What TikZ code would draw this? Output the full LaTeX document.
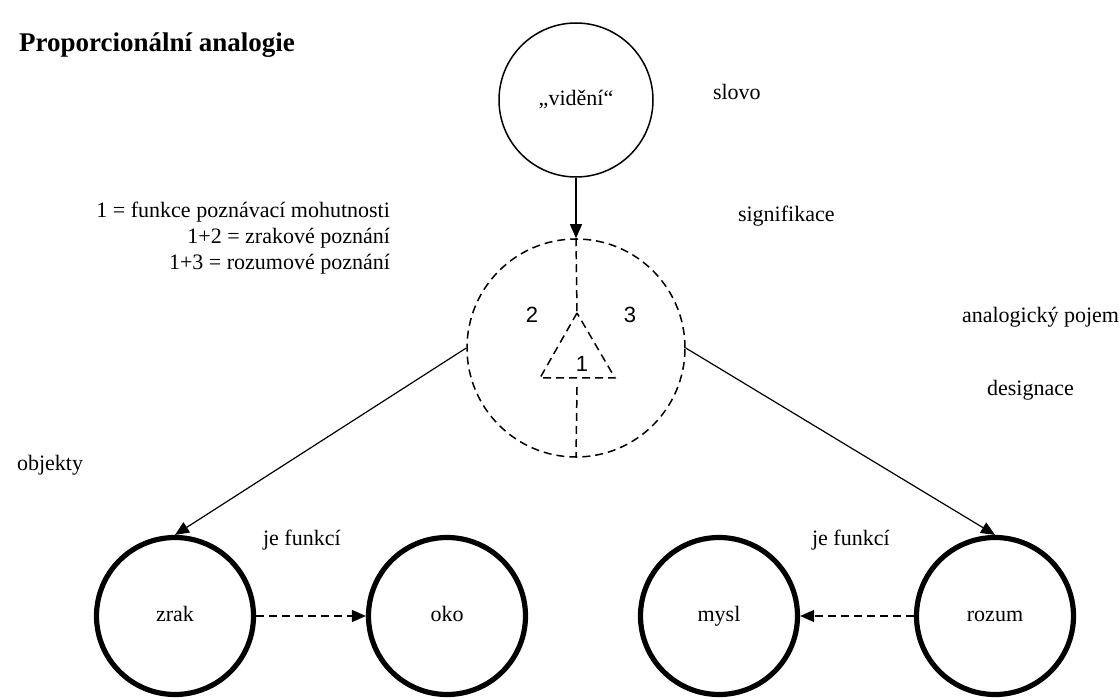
\documentclass[tikz,border=0pt]{standalone}
\usepackage{fontspec}
\setmainfont{Liberation Serif}
\newfontfamily\cislafont{Liberation Sans}
\usetikzlibrary{arrows.meta}
\begin{document}
\begin{tikzpicture}[x=0.5pt,y=-0.5pt,font=\fontsize{11pt}{13pt}\selectfont,
    kruh/.style={circle,draw,line width=0.75pt,minimum size=77pt,inner sep=0pt},
    pojemkruh/.style={circle,draw,line width=0.75pt,dash pattern=on 4pt off 2.5pt,minimum size=109pt,inner sep=0pt},
    objekt/.style={circle,draw,line width=2.6pt,minimum size=78.5pt,inner sep=0pt,text height=1.5ex,text depth=0.4ex},
    sipka/.style={-{Triangle[length=7pt,width=6pt]},line width=0.6pt},
    carkovane/.style={line width=0.75pt,dash pattern=on 4pt off 2.5pt}]
                \useasboundingbox (0,0) rectangle (1120,700);
                % Title
                \node[anchor=base west,font=\fontsize{13.5pt}{15pt}\selectfont\bfseries] (nadpis) at (12,52) {Proporcionální analogie};

                % Word and concept
                \node[kruh] (slovo) at (576,100) {„vidění“};
                \node[pojemkruh] (pojem) at (576,348) {};

                % Objects
                \node[objekt] (zrak) at (175,616) {zrak};
                \node[objekt] (oko) at (447,616) {oko};
                \node[objekt] (mysl) at (719,616) {mysl};
                \node[objekt] (rozum) at (995,616) {rozum};

                % Inside of the concept
                \coordinate (vrchol) at (577,313);
                \coordinate (levy) at (540,378);
                \coordinate (pravy) at (615,378);
                \coordinate (spodek) at (577,387);
                \draw[carkovane] (pojem.north) -- (vrchol);
                \draw[carkovane] (vrchol) -- (levy) -- (pravy) -- cycle;
                \draw[carkovane] (spodek) -- (pojem.south);
                \node[font=\cislafont\fontsize{11pt}{13pt}\selectfont] (c2) at (532,315) {2};
                \node[font=\cislafont\fontsize{11pt}{13pt}\selectfont] (c3) at (630,315) {3};
                \node[font=\cislafont\fontsize{11pt}{13pt}\selectfont] (c1) at (582,364) {1};

                % Arrows
                \draw[sipka] (slovo.south) -- (pojem.north);
                \draw[sipka] (pojem.west) -- (zrak.north);
                \draw[sipka] (pojem.east) -- (rozum.north);
                \draw[sipka,carkovane] (zrak.east) -- (oko.west);
                \draw[sipka,carkovane] (rozum.west) -- (mysl.east);

                % Labels
                \node[anchor=west] (lslovo) at (706,92) {slovo};
                \node[anchor=west] (lsignifikace) at (731,216) {signifikace};
                \node[anchor=west] (lpojem) at (955,317) {analogický pojem};
                \node[anchor=west] (ldesignace) at (980,390) {designace};
                \node[anchor=west] (lobjekty) at (10,465) {objekty};
                \node[anchor=west] (lfunkce1) at (256,540) {je funkcí};
                \node[anchor=west] (lfunkce2) at (805,540) {je funkcí};
                \node[anchor=east,align=right] (legenda) at (397,238) {1 = funkce poznávací mohutnosti\\1+2 = zrakové poznání\\1+3 = rozumové poznání};
              \end{tikzpicture}
\end{document}
